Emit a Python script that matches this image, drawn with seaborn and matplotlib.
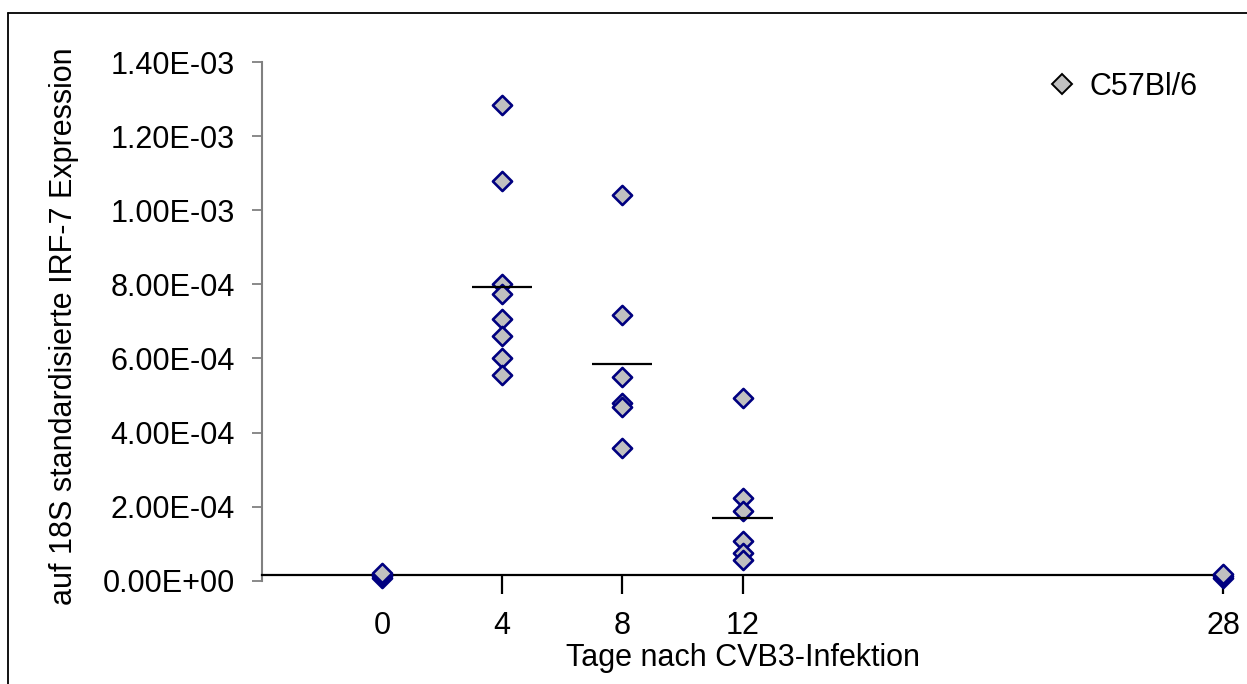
import numpy as np
import pandas as pd
import matplotlib
matplotlib.use("Agg")
import matplotlib.pyplot as plt
from matplotlib.lines import Line2D
import seaborn as sns

# ---- data ----
day0 = [0.8e-5, 1.2e-5, 1.6e-5, 2.0e-5]
day4 = [1.285e-3, 1.079e-3, 8.00e-4, 7.73e-4, 7.06e-4, 6.61e-4, 6.01e-4, 5.54e-4]
day8 = [1.040e-3, 7.18e-4, 5.51e-4, 4.79e-4, 4.70e-4, 3.58e-4]
day12 = [4.93e-4, 2.24e-4, 1.89e-4, 1.07e-4, 7.4e-5, 5.6e-5]
day28 = [0.8e-5, 1.2e-5, 1.8e-5]
mean_days = [4, 8, 12]
mean_values = [7.92e-4, 5.85e-4, 1.70e-4]
x_ticks = [0, 4, 8, 12, 28]
x_tick_labels = ["0", "4", "8", "12", "28"]
y_ticks = [0, 2e-4, 4e-4, 6e-4, 8e-4, 1e-3, 1.2e-3, 1.4e-3]
y_tick_labels = ["0.00E+00", "2.00E-04", "4.00E-04", "6.00E-04",
                 "8.00E-04", "1.00E-03", "1.20E-03", "1.40E-03"]
series_name = "C57Bl/6"
x_label = "Tage nach CVB3-Infektion"
y_label = "auf 18S standardisierte IRF-7 Expression"

df = pd.DataFrame({
    "day": [0] * len(day0) + [4] * len(day4) + [8] * len(day8)
           + [12] * len(day12) + [28] * len(day28),
    "value": day0 + day4 + day8 + day12 + day28,
})

sns.set_style("white")
plt.rcParams["font.family"] = ["Liberation Sans", "DejaVu Sans"]
plt.rcParams["text.color"] = "black"
plt.rcParams["axes.labelcolor"] = "black"
plt.rcParams["xtick.color"] = "black"
plt.rcParams["ytick.color"] = "black"

W, H = 1247, 684
fig = plt.figure(figsize=(W / 100, H / 100), dpi=100)
ax_left, ax_right, ax_top, ax_bottom = 262, 1223, 62, 580.7
ax = fig.add_axes([ax_left / W, 1 - ax_bottom / H,
                   (ax_right - ax_left) / W, (ax_bottom - ax_top) / H])

sns.scatterplot(data=df, x="day", y="value", ax=ax, marker="D", s=95,
                color="#C0C0C0", edgecolor="#000080", linewidth=1.9,
                clip_on=False, zorder=4, legend=False)

ax.hlines(mean_values, [d - 1 for d in mean_days], [d + 1 for d in mean_days],
          colors="black", linewidth=1.6, zorder=5)

ax.set_xlim(-4, 28)
ax.set_ylim(0, 1.4e-3)

ax.set_yticks(y_ticks)
ax.set_yticklabels(y_tick_labels)
ax.set_xticks(x_ticks)
ax.set_xticklabels(x_tick_labels)

for s in ["top", "right"]:
    ax.spines[s].set_visible(False)
ax.spines["left"].set_color("#808080")
ax.spines["left"].set_linewidth(1.5)
ax.spines["bottom"].set_position(("data", 1.5e-5))
ax.spines["bottom"].set_color("black")
ax.spines["bottom"].set_linewidth(1.6)

ax.tick_params(axis="y", direction="out", length=7.5, width=1.3,
               color="#808080", pad=12, labelcolor="black", labelsize=22,
               left=True)
ax.tick_params(axis="x", direction="out", length=13.5, width=1.6,
               color="black", pad=12, labelcolor="black", labelsize=22,
               bottom=True)
ax.xaxis.get_major_ticks()[0].tick1line.set_visible(False)

ax.set_xlabel(x_label, fontsize=22, labelpad=2, color="black")
ax.set_ylabel(y_label, fontsize=22, color="black")
ax.yaxis.set_label_coords(-0.190, 0.49)

handle = Line2D([], [], marker="D", linestyle="", markersize=10.5,
                markerfacecolor="#C0C0C0", markeredgecolor="black",
                markeredgewidth=1.4)
fig.legend([handle], [series_name], loc="center left",
           bbox_to_anchor=(1047 / W, 1 - 87 / H), frameon=False,
           fontsize=22, handlelength=1.0, handletextpad=0.4,
           borderpad=0, borderaxespad=0, labelcolor="black")

# outer chart border (left and top edges visible)
fig.add_artist(Line2D([8 / W, 8 / W], [0, 1 - 13 / H], color="black",
                      linewidth=1.3, transform=fig.transFigure))
fig.add_artist(Line2D([8 / W, 1], [1 - 13 / H, 1 - 13 / H], color="black",
                      linewidth=1.3, transform=fig.transFigure))

fig.savefig("out.png", dpi=100, facecolor="white")
